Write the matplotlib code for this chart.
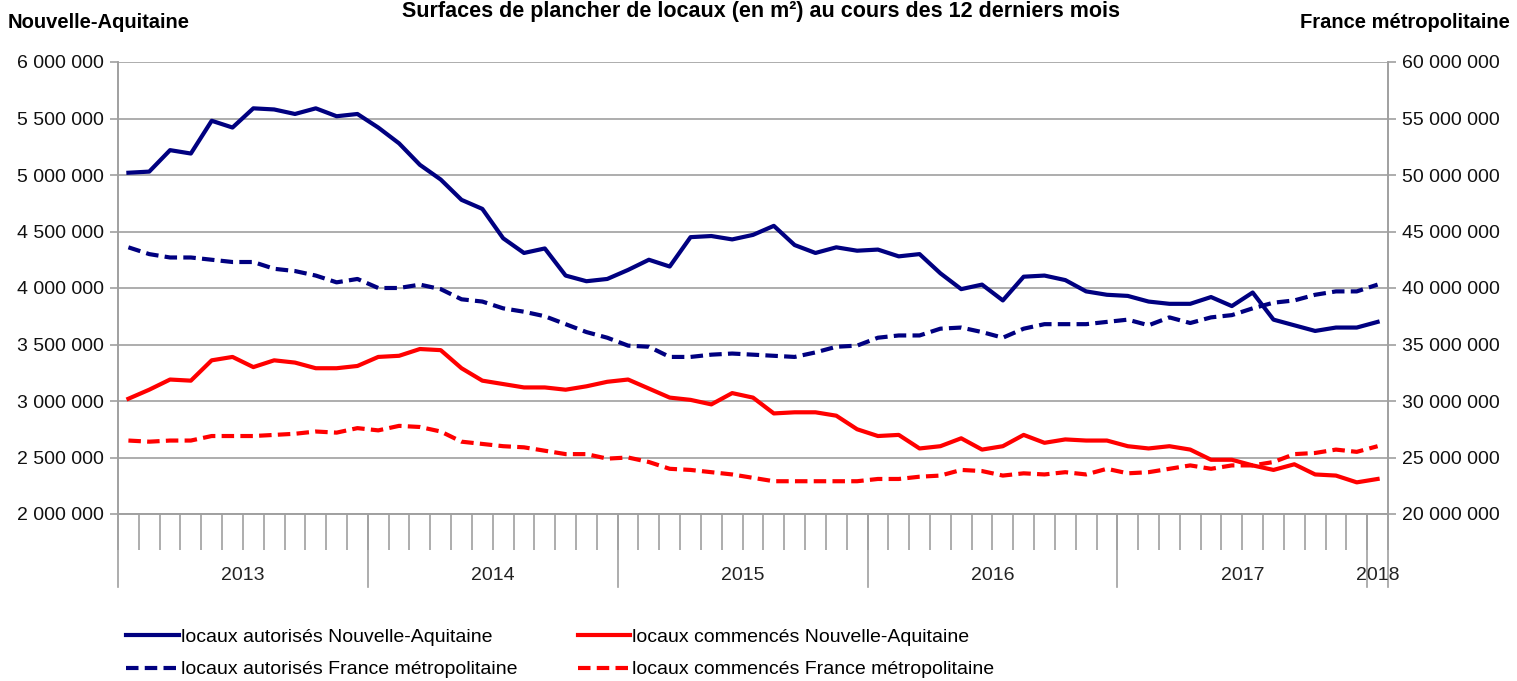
import matplotlib
matplotlib.use("Agg")
import matplotlib.pyplot as plt
import matplotlib.transforms as mtransforms
from matplotlib.ticker import FuncFormatter
import numpy as np
import pandas as pd

plt.rcParams['font.family'] = ['Liberation Sans', 'DejaVu Sans']

# monthly categories, Jan 2013 -> Jan 2018
months = pd.period_range('2013-01', '2018-01', freq='M')
years = ['2013', '2014', '2015', '2016', '2017', '2018']

# locaux autorises Nouvelle-Aquitaine (millions m2, left axis)
autor_na = [5.02, 5.03, 5.22, 5.19, 5.48, 5.42, 5.59, 5.58, 5.54, 5.59, 5.52, 5.54,
            5.42, 5.28, 5.09, 4.96, 4.78, 4.70, 4.44, 4.31, 4.35, 4.11, 4.06, 4.08,
            4.16, 4.25, 4.19, 4.45, 4.46, 4.43, 4.47, 4.55, 4.38, 4.31, 4.36, 4.33,
            4.34, 4.28, 4.30, 4.13, 3.99, 4.03, 3.89, 4.10, 4.11, 4.07, 3.97, 3.94,
            3.93, 3.88, 3.86, 3.86, 3.92, 3.84, 3.96, 3.72, 3.67, 3.62, 3.65, 3.65,
            3.70]
# locaux commences Nouvelle-Aquitaine (millions m2, left axis)
comm_na = [3.02, 3.10, 3.19, 3.18, 3.36, 3.39, 3.30, 3.36, 3.34, 3.29, 3.29, 3.31,
           3.39, 3.40, 3.46, 3.45, 3.29, 3.18, 3.15, 3.12, 3.12, 3.10, 3.13, 3.17,
           3.19, 3.11, 3.03, 3.01, 2.97, 3.07, 3.03, 2.89, 2.90, 2.90, 2.87, 2.75,
           2.69, 2.70, 2.58, 2.60, 2.67, 2.57, 2.60, 2.70, 2.63, 2.66, 2.65, 2.65,
           2.60, 2.58, 2.60, 2.57, 2.48, 2.48, 2.43, 2.39, 2.44, 2.35, 2.34, 2.28,
           2.31]
# locaux autorises France metropolitaine (millions m2, right axis)
autor_fr = [43.6, 43.0, 42.7, 42.7, 42.5, 42.3, 42.3, 41.7, 41.5, 41.1, 40.5, 40.8,
            40.0, 40.0, 40.3, 39.9, 39.0, 38.8, 38.2, 37.9, 37.5, 36.8, 36.1, 35.6,
            34.9, 34.8, 33.9, 33.9, 34.1, 34.2, 34.1, 34.0, 33.9, 34.3, 34.8, 34.9,
            35.6, 35.8, 35.8, 36.4, 36.5, 36.1, 35.6, 36.4, 36.8, 36.8, 36.8, 37.0,
            37.2, 36.7, 37.4, 36.9, 37.4, 37.6, 38.2, 38.7, 38.9, 39.4, 39.7, 39.7,
            40.3]
# locaux commences France metropolitaine (millions m2, right axis)
comm_fr = [26.5, 26.4, 26.5, 26.5, 26.9, 26.9, 26.9, 27.0, 27.1, 27.3, 27.2, 27.6,
           27.4, 27.8, 27.7, 27.3, 26.4, 26.2, 26.0, 25.9, 25.6, 25.3, 25.3, 24.9,
           25.0, 24.6, 24.0, 23.9, 23.7, 23.5, 23.2, 22.9, 22.9, 22.9, 22.9, 22.9,
           23.1, 23.1, 23.3, 23.4, 23.9, 23.8, 23.4, 23.6, 23.5, 23.7, 23.5, 24.0,
           23.6, 23.7, 24.0, 24.3, 24.0, 24.3, 24.3, 24.6, 25.3, 25.4, 25.7, 25.5,
           26.0]

NAVY = '#000080'
RED = '#ff0000'
GRID = '#a0a0a0'

W, H = 1517, 681
fig = plt.figure(figsize=(W / 100, H / 100), dpi=100)
ax = fig.add_axes([118 / W, 1 - 514 / H, (1388 - 118) / W, (514 - 62) / H])
ax2 = ax.twinx()

x = np.arange(len(months))
lw = 3.0
dash = (3.0, 1.5)
l1, = ax.plot(x, np.array(autor_na) * 1e6, color=NAVY, lw=lw,
              label='locaux autorisés Nouvelle-Aquitaine')
l3, = ax.plot(x, np.array(comm_na) * 1e6, color=RED, lw=lw,
              label='locaux commencés Nouvelle-Aquitaine')
l2, = ax2.plot(x, np.array(autor_fr) * 1e6, color=NAVY, lw=lw, dashes=dash,
               label='locaux autorisés France métropolitaine')
l4, = ax2.plot(x, np.array(comm_fr) * 1e6, color=RED, lw=lw, dashes=dash,
               label='locaux commencés France métropolitaine')

fmt = FuncFormatter(lambda v, _: f"{int(round(v)):,}".replace(",", " "))

ax.set_xlim(-0.5, len(months) - 0.5)
ax.set_ylim(2e6, 6e6)
ax.set_yticks(np.arange(2e6, 6e6 + 1, 5e5))
ax.yaxis.set_major_formatter(fmt)
ax2.set_ylim(20e6, 60e6)
ax2.set_yticks(np.arange(20e6, 60e6 + 1, 5e6))
ax2.yaxis.set_major_formatter(fmt)

ax.grid(axis='y', color=GRID, lw=1.2)
ax.set_axisbelow(True)
for a in (ax, ax2):
    for s in a.spines.values():
        s.set_color(GRID)
        s.set_linewidth(1.2)
    a.spines['top'].set_visible(False)
    a.tick_params(axis='y', length=6, width=1.2, color=GRID, labelsize=14,
                  labelcolor='#111111', pad=4)

# month ticks below the axis
ax.set_xticks(np.arange(-0.5, len(months), 1.0))
ax.set_xticklabels([])
ax.tick_params(axis='x', length=26, width=1.2, color=GRID, direction='out')

# year separators and labels
trans = mtransforms.blended_transform_factory(ax.transData, ax.transAxes)
yr_idx = [i for i, m in enumerate(months) if m.month == 1]
bounds = [i - 0.5 for i in yr_idx] + [len(months) - 0.5]
for b in bounds:
    ax.plot([b, b], [0, -(587 - 514) / 452], transform=trans, color=GRID,
            lw=1.2, clip_on=False)
for k, yr in enumerate(years):
    c = (bounds[k] + bounds[k + 1]) / 2
    ax.text(c, -(576 - 514) / 452, yr, transform=trans, ha='center',
            va='center', fontsize=14, color='#222222')

fig.text(8 / W, 1 - 22 / H, 'Nouvelle-Aquitaine', fontsize=14.5,
         fontweight='bold', ha='left', va='center')
fig.text(1510 / W, 1 - 22 / H, 'France métropolitaine', fontsize=14.5,
         fontweight='bold', ha='right', va='center')
fig.text(761 / W, 1 - 1 / H,
         'Surfaces de plancher de locaux (en m²) au cours des 12 derniers mois',
         fontsize=15.5, fontweight='bold', ha='center', va='top')

fig.legend(handles=[l1, l2, l3, l4], loc='upper left',
           bbox_to_anchor=(126 / W, 1 - 628 / H), ncol=2, frameon=False,
           fontsize=14, handlelength=2.7, handletextpad=0.12,
           columnspacing=3.1, labelspacing=0.78, borderpad=0, borderaxespad=0)

fig.savefig('out.png', dpi=100)
